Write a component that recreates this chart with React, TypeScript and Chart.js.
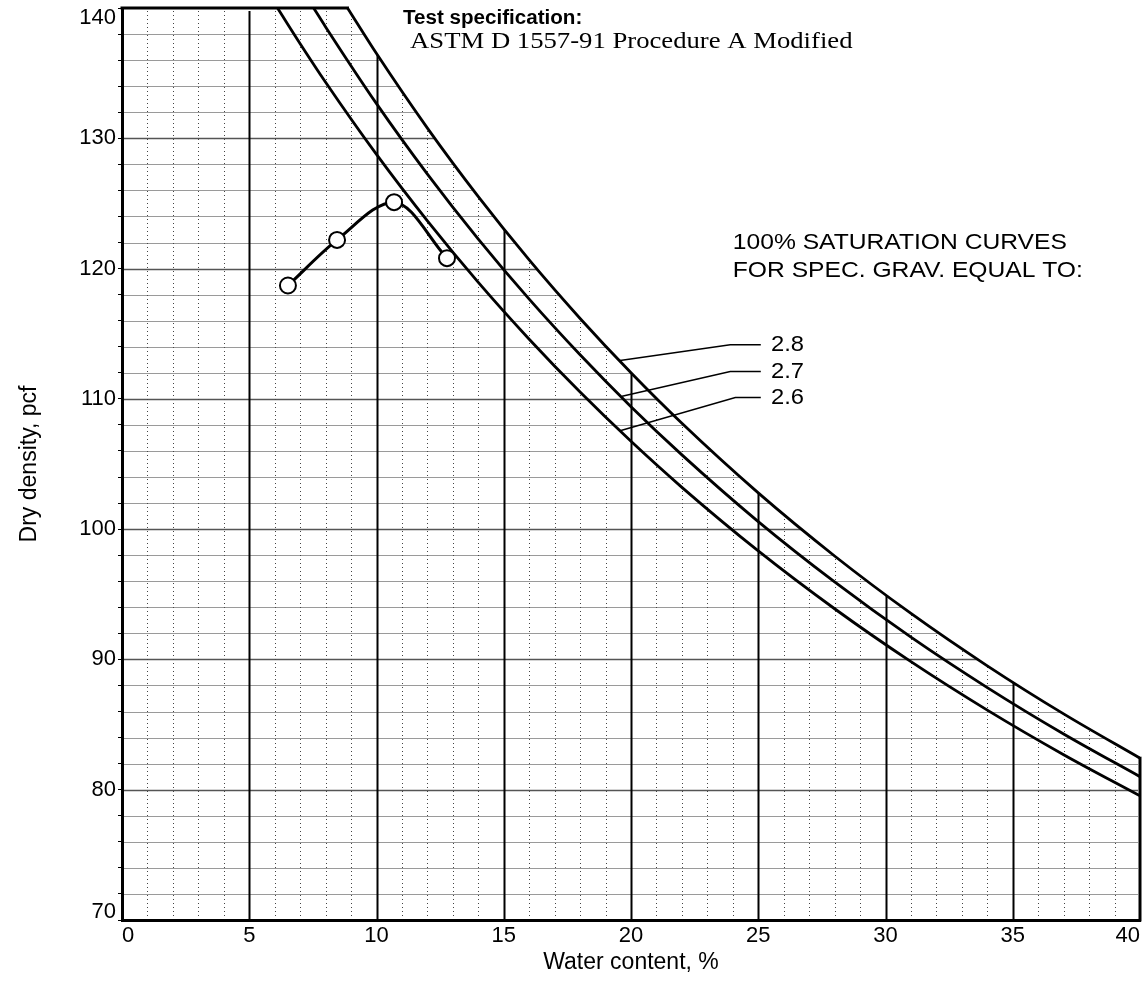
import React, { useEffect, useRef } from 'react';
import { Chart, registerables } from 'chart.js';

Chart.register(...registerables);

// Compaction test results
const waterContent = [6.52, 8.45, 10.69, 12.77];
const dryDensity = [118.7, 122.2, 125.1, 120.8];

// 100% saturation curves
const satW28 = [8.86, 10, 12, 14, 16, 18, 20, 22, 25, 28, 31, 34, 37, 40];
const satD28 = [140, 136.5, 130.78, 125.52, 120.66, 116.17, 112.0, 108.12, 102.78, 97.94, 93.53, 89.51, 85.82, 82.42];
const satW27 = [7.53, 8, 10, 12, 14, 16, 18, 20, 22, 25, 28, 31, 34, 37, 40];
const satD27 = [140, 138.55, 132.66, 127.25, 122.26, 117.65, 113.38, 109.4, 105.7, 100.58, 95.95, 91.71, 87.84, 84.28, 81.0];
const satW26 = [6.11, 7, 8, 10, 12, 14, 16, 18, 20, 22, 25, 28, 31, 34, 37, 40];
const satD26 = [140, 137.26, 134.3, 128.76, 123.66, 118.94, 114.58, 110.52, 106.74, 103.21, 98.33, 93.89, 89.83, 86.11, 82.69, 79.53];

// Axis ranges and labels
const xMin = 0, xMax = 40, xStep = 1, xLabelEvery = 5;
const yMin = 70, yMax = 140, yStep = 2, yLabelEvery = 10;
const xTitle = 'Water content, %';
const yTitle = 'Dry density, pcf';

// Annotations
const gsLabels = ['2.8', '2.7', '2.6'];
const leaderStartW = [19.57, 19.65, 19.57];
const leaderStartD = [112.95, 110.2, 107.55];
const leaderBendW = [23.9, 23.9, 24.1];
const leaderLevelD = [114.15, 112.1, 110.1];
const leaderEndW = 25.1;
const gsLabelW = 25.5;
const satTextLines = ['100% SATURATION CURVES', 'FOR SPEC. GRAV. EQUAL TO:'];
const satTextW = 24.0;
const satTextD = [121.97, 119.8];
const specTitle = 'Test specification:';
const specText = 'ASTM D 1557-91 Procedure A Modified';
const specTitlePos = [11.04, 139.23];
const specTextPos = [11.32, 137.39];

const SANS = '"Liberation Sans", Arial, sans-serif';
const SERIF = '"Liberation Serif", "Times New Roman", serif';

const toXY = (xs: number[], ys: number[]) => xs.map((x, i) => ({ x, y: ys[i] }));

const gridPlugin = {
  id: 'customGrid',
  beforeDraw(chart: any) {
    const { ctx, chartArea: a, scales } = chart;
    const xs = scales.x, ys = scales.y;
    ctx.save();
    ys.ticks.forEach((t: any) => {
      const v = t.value;
      if (v <= yMin || v >= yMax) return;
      const py = Math.round(ys.getPixelForValue(v)) + 0.5;
      const major = v % yLabelEvery === 0;
      ctx.beginPath();
      ctx.setLineDash([]);
      ctx.strokeStyle = major ? '#555' : '#9a9a9a';
      ctx.lineWidth = major ? 1.6 : 1;
      ctx.moveTo(a.left, py);
      ctx.lineTo(a.right - 2, py);
      ctx.stroke();
    });
    xs.ticks.forEach((t: any) => {
      const v = t.value;
      if (v <= xMin || v >= xMax) return;
      const px = Math.round(xs.getPixelForValue(v)) + 0.5;
      const major = v % xLabelEvery === 0;
      ctx.beginPath();
      ctx.setLineDash(major ? [] : [1, 3]);
      ctx.strokeStyle = major ? '#000' : '#444';
      ctx.lineWidth = major ? 2 : 1;
      ctx.moveTo(px, a.top + 3);
      ctx.lineTo(px, a.bottom);
      ctx.stroke();
    });
    ctx.restore();
  },
};

const stretchText = (ctx: any, s: string, x: number, y: number, sx: number) => {
  ctx.save();
  ctx.translate(x, y);
  ctx.scale(sx, 1);
  ctx.fillText(s, 0, 0);
  ctx.restore();
};

const annotationPlugin = {
  id: 'annotations',
  afterDraw(chart: any) {
    const { ctx, scales, chartArea: a } = chart;
    const X = (v: number) => scales.x.getPixelForValue(v);
    const Y = (v: number) => scales.y.getPixelForValue(v);
    ctx.save();
    ctx.strokeStyle = '#000';
    ctx.lineCap = 'square';
    // frame pieces
    ctx.lineWidth = 3;
    ctx.beginPath();
    ctx.moveTo(X(xMin), Y(yMax));
    ctx.lineTo(X(satW28[0]), Y(yMax));
    ctx.stroke();
    ctx.beginPath();
    ctx.moveTo(X(xMax), Y(satD28[satD28.length - 1]));
    ctx.lineTo(X(xMax), Y(yMin));
    ctx.stroke();
    // end tick labels of the y axis (drawn inside the axis extent, as in the original)
    ctx.fillStyle = '#000';
    ctx.font = `22px ${SANS}`;
    ctx.textAlign = 'right';
    ctx.textBaseline = 'middle';
    const yl = a.left - 6;
    ctx.fillText(String(yMax), yl, Y(yMax) + 10);
    ctx.fillText(String(yMin), yl, Y(yMin) - 8);
    // leaders
    ctx.lineWidth = 1.5;
    ctx.lineCap = 'butt';
    ctx.textAlign = 'left';
    gsLabels.forEach((lab, i) => {
      ctx.beginPath();
      ctx.moveTo(X(leaderStartW[i]), Y(leaderStartD[i]));
      ctx.lineTo(X(leaderBendW[i]), Y(leaderLevelD[i]));
      ctx.lineTo(X(leaderEndW), Y(leaderLevelD[i]));
      ctx.stroke();
      ctx.font = `22px ${SANS}`;
      stretchText(ctx, lab, X(gsLabelW), Y(leaderLevelD[i]), 1.08);
    });
    ctx.font = `22px ${SANS}`;
    satTextLines.forEach((s, i) => stretchText(ctx, s, X(satTextW), Y(satTextD[i]), 1.12));
    ctx.font = `bold 20px ${SANS}`;
    stretchText(ctx, specTitle, X(specTitlePos[0]), Y(specTitlePos[1]), 1.03);
    ctx.font = `23px ${SERIF}`;
    stretchText(ctx, specText, X(specTextPos[0]), Y(specTextPos[1]), 1.16);
    ctx.restore();
  },
};

export default function App() {
  const ref = useRef<HTMLCanvasElement>(null);
  useEffect(() => {
    if (!ref.current) return;
    const chart = new Chart(ref.current, {
      type: 'scatter',
      data: {
        datasets: [
          {
            label: 'Test data',
            data: toXY(waterContent, dryDensity),
            showLine: true,
            borderColor: '#000',
            borderWidth: 3,
            cubicInterpolationMode: 'monotone',
            pointRadius: 8,
            pointBackgroundColor: '#fff',
            pointBorderColor: '#000',
            pointBorderWidth: 2,
          },
          {
            label: 'Gs 2.6',
            data: toXY(satW26, satD26),
            showLine: true,
            borderColor: '#000',
            borderWidth: 2.8,
            pointRadius: 0,
            cubicInterpolationMode: 'monotone',
          },
          {
            label: 'Gs 2.7',
            data: toXY(satW27, satD27),
            showLine: true,
            borderColor: '#000',
            borderWidth: 2.8,
            pointRadius: 0,
            cubicInterpolationMode: 'monotone',
          },
          {
            label: 'Gs 2.8',
            data: toXY(satW28, satD28),
            showLine: true,
            borderColor: '#000',
            borderWidth: 2.8,
            pointRadius: 0,
            cubicInterpolationMode: 'monotone',
            fill: 'end',
            backgroundColor: '#fff',
          },
        ],
      } as any,
      options: {
        animation: false,
        responsive: true,
        maintainAspectRatio: false,
        layout: { autoPadding: false, padding: { top: 8, right: 4, left: 0, bottom: 0 } },
        plugins: { legend: { display: false }, tooltip: { enabled: false } },
        scales: {
          x: {
            type: 'linear',
            min: xMin,
            max: xMax,
            afterFit: (s: any) => {
              s.height = 72;
              s.paddingLeft = 0;
              s.paddingRight = 0;
            },
            ticks: {
              stepSize: xStep,
              autoSkip: false,
              maxRotation: 0,
              align: 'inner',
              padding: 3,
              color: '#000',
              font: { family: SANS, size: 22 },
              callback: (v: any) => (Number(v) % xLabelEvery === 0 ? String(v) : ''),
            },
            grid: { drawOnChartArea: false, drawTicks: false },
            border: { color: '#000', width: 3 },
            title: {
              display: true,
              text: xTitle,
              color: '#000',
              font: { family: SANS, size: 23 },
              padding: { top: 0, bottom: 16 },
            },
          },
          y: {
            type: 'linear',
            min: yMin,
            max: yMax,
            afterFit: (s: any) => {
              s.width = 122;
              s.paddingTop = 0;
              s.paddingBottom = 0;
            },
            ticks: {
              stepSize: yStep,
              autoSkip: false,
              padding: 2,
              color: '#000',
              font: { family: SANS, size: 22 },
              callback: (v: any) => {
                const n = Number(v);
                if (n === yMin || n === yMax) return '';
                return n % yLabelEvery === 0 ? String(v) : '';
              },
            },
            grid: { drawOnChartArea: false, drawTicks: true, tickLength: 4, tickColor: '#000', tickWidth: 1 },
            border: { color: '#000', width: 3 },
            title: {
              display: true,
              text: yTitle,
              color: '#000',
              font: { family: SANS, size: 23 },
              padding: { top: 16, bottom: 0 },
            },
          },
        },
      } as any,
      plugins: [gridPlugin, annotationPlugin],
    });
    return () => chart.destroy();
  }, []);
  return (
    <div style={{ position: 'fixed', left: 0, top: 0, width: 1144, height: 992, background: '#fff' }}>
      <canvas ref={ref} />
    </div>
  );
}
